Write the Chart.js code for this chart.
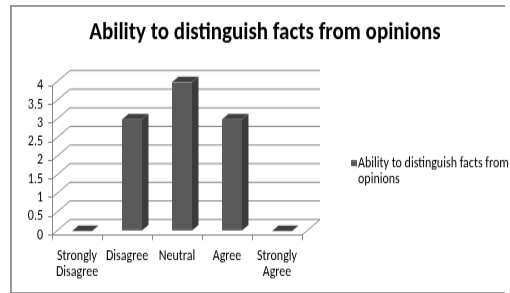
<!DOCTYPE html>
<html>
<head>
<meta charset="utf-8">
<script src="https://cdn.jsdelivr.net/npm/chart.js@4"></script>
<style>
  html, body { margin: 0; padding: 0; background: #fff; }
  #wrap { position: absolute; left: 0; top: 0; width: 510px; height: 240px; transform: scale(1, 1.220833); transform-origin: 0 0; }
  #frame { position: absolute; left: 10px; top: 5px; width: 493px; height: 285px; border: 2px solid #9a9a9a; border-right: none; }
</style>
</head>
<body>
<div id="frame"></div>
<div id="wrap"><canvas id="chart" width="510" height="240"></canvas></div>
<script>
// données
const categories = [['Strongly', 'Disagree'], 'Disagree', 'Neutral', 'Agree', ['Strongly', 'Agree']];
const seriesName = 'Ability to distinguish facts from opinions';
const seriesValues = [0, 3, 4, 3, 0];
const yTicks = { min: 0, max: 4, step: 0.5 };

const GRAY = '#8a8a8a';
const FRONT = '#5a5a5a';
const SIDE = '#3c3c3c';
const TOP = '#404040';

// décalages 3D (pixels du canvas, avant l'étirement vertical)
const WALL = { dx: 18, dy: -12.7 };
const BAR_SHIFT = { dx: 5, dy: -3.3 };
const DEPTH = { dx: 6.5, dy: -4.5 };

Chart.defaults.font.family = 'Carlito';
Chart.defaults.color = '#000';

const wallPlugin = {
    id: 'wall3d',
    beforeDatasetsDraw(chart) {
        const { ctx, chartArea } = chart;
        const y = chart.scales.y;
        ctx.save();
        ctx.strokeStyle = GRAY;
        ctx.lineWidth = 1;
        y.ticks.forEach(t => {
            const py = y.getPixelForValue(t.value);
            ctx.beginPath();
            ctx.moveTo(chartArea.left, py);
            ctx.lineTo(chartArea.left + WALL.dx, py + WALL.dy);
            ctx.lineTo(chartArea.right + WALL.dx, py + WALL.dy);
            ctx.stroke();
        });
        // bord droit du sol
        const y0 = y.getPixelForValue(0);
        ctx.beginPath();
        ctx.moveTo(chartArea.right, y0);
        ctx.lineTo(chartArea.right + WALL.dx, y0 + WALL.dy);
        ctx.stroke();
        ctx.restore();

        // les barres sont placées un peu en profondeur
        ctx.save();
        ctx.translate(BAR_SHIFT.dx, BAR_SHIFT.dy);
    },
    afterDatasetsDraw(chart) {
        const ctx = chart.ctx;
        chart.getDatasetMeta(0).data.forEach(bar => {
            const { x, y, base, width } = bar.getProps(['x', 'y', 'base', 'width'], true);
            const l = x - width / 2, r = x + width / 2;
            // côté
            ctx.fillStyle = SIDE;
            ctx.beginPath();
            ctx.moveTo(r, y);
            ctx.lineTo(r + DEPTH.dx, y + DEPTH.dy);
            ctx.lineTo(r + DEPTH.dx, base + DEPTH.dy);
            ctx.lineTo(r, base);
            ctx.closePath();
            ctx.fill();
            // dessus
            ctx.fillStyle = TOP;
            ctx.beginPath();
            ctx.moveTo(l, y);
            ctx.lineTo(l + DEPTH.dx, y + DEPTH.dy);
            ctx.lineTo(r + DEPTH.dx, y + DEPTH.dy);
            ctx.lineTo(r, y);
            ctx.closePath();
            ctx.fill();
        });
        ctx.restore();
    }
};

// légende sur deux lignes, à droite
const legendPlugin = {
    id: 'legendWrap',
    afterDraw(chart) {
        const ctx = chart.ctx;
        const ds = chart.data.datasets[0];
        ctx.save();
        ctx.font = '12px Carlito';
        ctx.textBaseline = 'middle';
        ctx.fillStyle = '#000';
        const words = ds.label.split(' ');
        const lines = [];
        let cur = '';
        words.forEach(w => {
            const test = cur ? cur + ' ' + w : w;
            if (ctx.measureText(test).width > 160 && cur) {
                lines.push(cur);
                cur = w;
            } else {
                cur = test;
            }
        });
        lines.push(cur);
        const x0 = 358, y0 = 133.6, lh = 13.1;
        lines.forEach((line, i) => ctx.fillText(line, x0, y0 + i * lh));
        ctx.fillStyle = ds.backgroundColor;
        ctx.fillRect(351, y0 - 2.5, 6, 5);
        ctx.restore();
    }
};

new Chart(document.getElementById('chart'), {
    type: 'bar',
    data: {
        labels: categories,
        datasets: [{
            label: seriesName,
            data: seriesValues,
            backgroundColor: FRONT,
            borderWidth: 0,
            barPercentage: 0.4,
            categoryPercentage: 1.0
        }]
    },
    options: {
        responsive: false,
        animation: false,
        events: [],
        layout: { padding: { left: 20, right: 0, top: 0, bottom: 0 } },
        plugins: {
            legend: { display: false },
            tooltip: { enabled: false },
            title: {
                display: true,
                text: 'Ability to distinguish facts from opinions',
                color: '#000',
                font: { size: 21, weight: 'bold', lineHeight: 1.2 },
                padding: { top: 14.4, bottom: 30.85 }
            }
        },
        scales: {
            x: {
                grid: { drawOnChartArea: false, offset: true, tickLength: 4, color: GRAY },
                border: { color: GRAY },
                ticks: { autoSkip: false, maxRotation: 0, padding: 6.75, font: { size: 12, lineHeight: 1.075 } },
                afterFit: s => { s.height = 47.5; }
            },
            y: {
                min: yTicks.min,
                max: yTicks.max,
                grid: { drawOnChartArea: false, tickLength: 4, color: GRAY },
                border: { color: GRAY },
                ticks: {
                    stepSize: yTicks.step,
                    count: (yTicks.max - yTicks.min) / yTicks.step + 1,
                    autoSkip: false,
                    padding: 5,
                    font: { size: 12, lineHeight: 1 },
                    callback: v => String(v)
                },
                afterFit: s => { s.width = 32; }
            },
            yR: {
                position: 'right',
                grid: { display: false },
                border: { display: false },
                ticks: { display: false },
                afterFit: s => { s.width = 208; }
            }
        }
    },
    plugins: [wallPlugin, legendPlugin]
});
</script>
</body>
</html>
